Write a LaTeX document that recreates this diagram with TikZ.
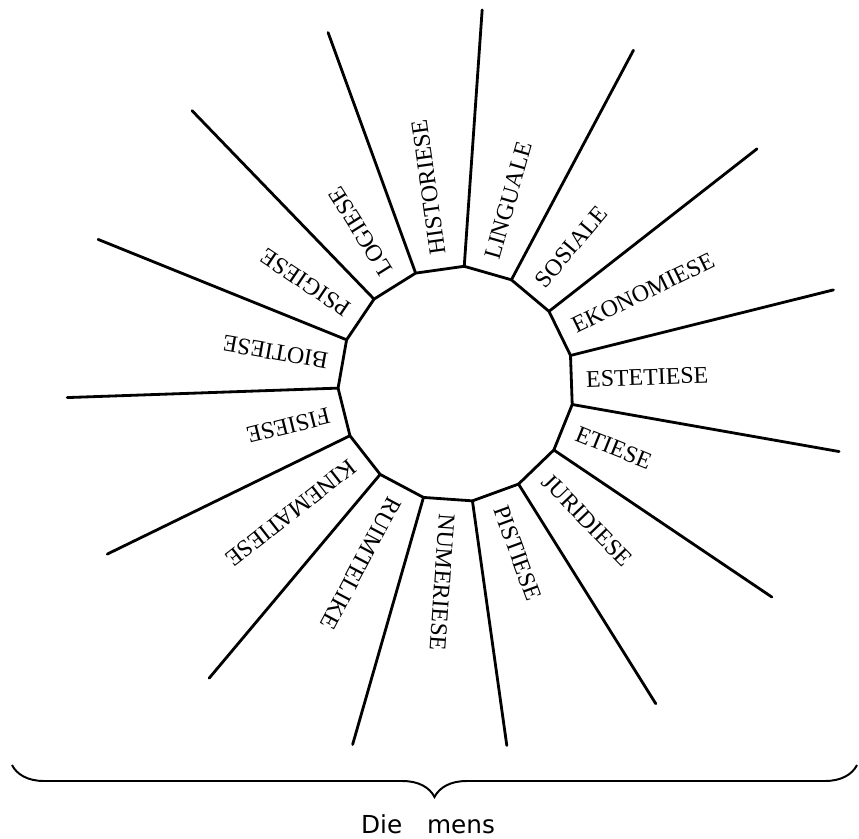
\documentclass[tikz,border=0pt]{standalone}
\usepackage{fontspec}
\setmainfont{Liberation Serif}
\newfontfamily\mensfont{DejaVu Sans}
\usetikzlibrary{decorations.pathreplacing}

\begin{document}
\begin{tikzpicture}[
  x=0.025cm, y=0.025cm,
  every node/.style={font=\fontsize{17}{20}\selectfont},
  rim/.style={line width=2pt,line join=round},
  ray/.style={line width=2pt,line cap=round},
  aspect/.style={anchor=west,inner sep=0pt},
  brc/.style={decorate,decoration={brace,mirror,amplitude=0.8cm},line width=1.4pt}
]
  \useasboundingbox (0,0) rectangle (859,838);
  \coordinate (c) at (456,454);
  % hoekpunte en buitenste eindpunte van die strale
  \foreach \i/\len in {0/389,1/382,2/378,3/375,4/374,5/380,6/386,7/389,
                       8/388,9/384,10/375,11/365,12/377,13/381,14/389} {
    \coordinate (v\i) at ([shift={({14+24*\i}:118)}]c);
    \coordinate (o\i) at ([shift={({14+24*\i}:\len)}]c);
  }
  \draw[rim] (v0) \foreach \i in {1,...,14} {-- (v\i)} -- cycle;
  \foreach \i in {0,...,14}
    \draw[ray] (v\i) -- (o\i);
  % modaliteite
  \foreach \a/\txt in {2/ESTETIESE,26/EKONOMIESE,50/SOSIALE,74/LINGUALE,
                       98/HISTORIESE,122/LOGIESE,146/PSIGIESE,170/BIOTIESE,
                       194/FISIESE,218/KINEMATIESE,242/RUIMTELIKE,266/NUMERIESE,
                       290/PISTIESE,314/JURIDIESE,338/ETIESE}
    \node[aspect,rotate=\a] (\txt) at ([shift={(\a:130)}]c) {\txt};
  \coordinate (bl) at (12,73);
  \coordinate (br) at (857,73);
  \draw[brc] (bl) -- (br);
  \node[font=\mensfont\fontsize{17.6}{20}\selectfont] (mens) at (428,14) {Die\quad mens};
\end{tikzpicture}
\end{document}
